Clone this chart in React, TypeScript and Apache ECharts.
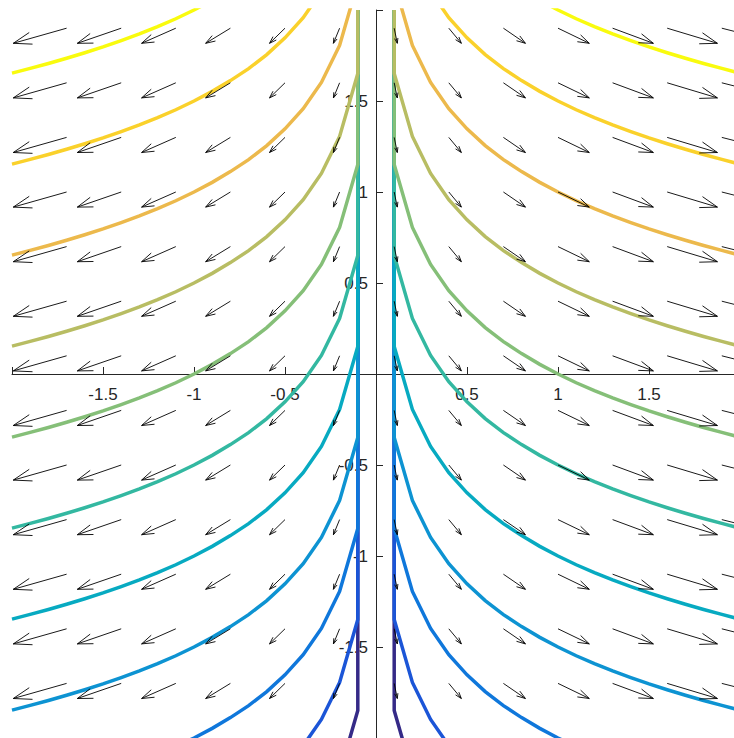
import React, { useEffect, useRef } from "react";
import * as echarts from "echarts";

// contour levels (low -> high, drawn in this order) and their parula colours
const levels = [-3, -2.5, -2, -1.5, -1, -0.5, 0, 0.5, 1, 1.5, 2];
const levelColors = [
  "#352A87", "#1B55D7", "#0F77DB", "#0D93D2", "#07AAC1", "#33B8A1",
  "#85BF78", "#B8BD63", "#ECB94C", "#FAD12B", "#F9FB0E",
];

// right-half contour paths [x, y]; the left half is the mirror image
const contourM30 = [[0.1, 2], [0.1, -1.849], [0.2, -2.195]];
const contourM25 = [[0.1, 2], [0.1, -1.349], [0.2, -1.695], [0.3, -1.898], [0.4, -2.042]];
const contourM20 = [
  [0.1, 2], [0.1, -0.849], [0.2, -1.195], [0.3, -1.398], [0.4, -1.542], [0.5, -1.653],
  [0.6, -1.745], [0.7, -1.822], [0.8, -1.888], [0.9, -1.947], [1.0, -2.0], [1.1, -2.048],
];
const contourM15 = [
  [0.1, 2], [0.1, -0.349], [0.2, -0.695], [0.3, -0.898], [0.4, -1.042], [0.5, -1.153],
  [0.6, -1.245], [0.7, -1.322], [0.8, -1.388], [0.9, -1.447], [1.0, -1.5], [1.1, -1.548],
  [1.2, -1.591], [1.3, -1.631], [1.4, -1.668], [1.5, -1.703], [1.6, -1.735], [1.7, -1.765],
  [1.8, -1.794], [1.9, -1.821], [2.0, -1.847],
];
const contourM10 = [
  [0.1, 2], [0.1, 0.151], [0.2, -0.195], [0.3, -0.398], [0.4, -0.542], [0.5, -0.653],
  [0.6, -0.745], [0.7, -0.822], [0.8, -0.888], [0.9, -0.947], [1.0, -1.0], [1.1, -1.048],
  [1.2, -1.091], [1.3, -1.131], [1.4, -1.168], [1.5, -1.203], [1.6, -1.235], [1.7, -1.265],
  [1.8, -1.294], [1.9, -1.321], [2.0, -1.347],
];
const contourM05 = [
  [0.1, 2], [0.1, 0.651], [0.2, 0.305], [0.3, 0.102], [0.4, -0.042], [0.5, -0.153],
  [0.6, -0.245], [0.7, -0.322], [0.8, -0.388], [0.9, -0.447], [1.0, -0.5], [1.1, -0.548],
  [1.2, -0.591], [1.3, -0.631], [1.4, -0.668], [1.5, -0.703], [1.6, -0.735], [1.7, -0.765],
  [1.8, -0.794], [1.9, -0.821], [2.0, -0.847],
];
const contourP00 = [
  [0.1, 2], [0.1, 1.151], [0.2, 0.805], [0.3, 0.602], [0.4, 0.458], [0.5, 0.347],
  [0.6, 0.255], [0.7, 0.178], [0.8, 0.112], [0.9, 0.053], [1.0, 0.0], [1.1, -0.048],
  [1.2, -0.091], [1.3, -0.131], [1.4, -0.168], [1.5, -0.203], [1.6, -0.235], [1.7, -0.265],
  [1.8, -0.294], [1.9, -0.321], [2.0, -0.347],
];
const contourP05 = [
  [0.1, 2], [0.1, 1.651], [0.2, 1.305], [0.3, 1.102], [0.4, 0.958], [0.5, 0.847],
  [0.6, 0.755], [0.7, 0.678], [0.8, 0.612], [0.9, 0.553], [1.0, 0.5], [1.1, 0.452],
  [1.2, 0.409], [1.3, 0.369], [1.4, 0.332], [1.5, 0.297], [1.6, 0.265], [1.7, 0.235],
  [1.8, 0.206], [1.9, 0.179], [2.0, 0.153],
];
const contourP10 = [
  [0.1, 2.151], [0.2, 1.805], [0.3, 1.602], [0.4, 1.458], [0.5, 1.347],
  [0.6, 1.255], [0.7, 1.178], [0.8, 1.112], [0.9, 1.053], [1.0, 1.0], [1.1, 0.952],
  [1.2, 0.909], [1.3, 0.869], [1.4, 0.832], [1.5, 0.797], [1.6, 0.765], [1.7, 0.735],
  [1.8, 0.706], [1.9, 0.679], [2.0, 0.653],
];
const contourP15 = [
  [0.3, 2.102], [0.4, 1.958], [0.5, 1.847],
  [0.6, 1.755], [0.7, 1.678], [0.8, 1.612], [0.9, 1.553], [1.0, 1.5], [1.1, 1.452],
  [1.2, 1.409], [1.3, 1.369], [1.4, 1.332], [1.5, 1.297], [1.6, 1.265], [1.7, 1.235],
  [1.8, 1.206], [1.9, 1.179], [2.0, 1.153],
];
const contourP20 = [
  [0.9, 2.053], [1.0, 2.0], [1.1, 1.952],
  [1.2, 1.909], [1.3, 1.869], [1.4, 1.832], [1.5, 1.797], [1.6, 1.765], [1.7, 1.735],
  [1.8, 1.706], [1.9, 1.679], [2.0, 1.653],
];
const contourPaths = [
  contourM30, contourM25, contourM20, contourM15, contourM10, contourM05,
  contourP00, contourP05, contourP10, contourP15, contourP20,
];

// quiver grid (visible rows/columns) and arrow components per column; every row is alike
const quiverX = [-2, -1.7, -1.4, -1.1, -0.8, -0.5, -0.2, 0.1, 0.4, 0.7, 1.0, 1.3, 1.6, 1.9];
const quiverY = [-1.7, -1.4, -1.1, -0.8, -0.5, -0.2, 0.1, 0.4, 0.7, 1.0, 1.3, 1.6, 1.9];
const quiverU = [-0.345, -0.293, -0.241, -0.188, -0.136, -0.085, -0.034, 0.017, 0.069, 0.121, 0.172, 0.224, 0.276, 0.327];
const quiverV = [-0.083, -0.083, -0.083, -0.083, -0.083, -0.083, -0.083, -0.083, -0.083, -0.083, -0.083, -0.083, -0.083, -0.083];

const hiddenTicks = [-2, 0, 2];
const FONT = "'Liberation Sans', Arial, Helvetica, sans-serif";
const AXIS_COLOR = "#262626";

// layout (pixels)
const GRID_LEFT = 12;
const GRID_TOP = 10;
const GRID_SIZE = 728;
const CHART_W = 760;
const CHART_H = 760;

export default function App() {
  const ref = useRef<HTMLDivElement>(null);

  useEffect(() => {
    if (!ref.current) return;
    const chart = echarts.init(ref.current, null, { renderer: "svg" });

    const series: any[] = [];
    contourPaths.forEach((path, i) => {
      const right = path.map((p) => [p[0], p[1]]);
      const left = path.map((p) => [-p[0], p[1]]);
      [right, left].forEach((d) => {
        series.push({
          type: "line",
          name: "c" + levels[i],
          data: d,
          symbol: "none",
          showSymbol: false,
          clip: true,
          silent: true,
          z: 2,
          lineStyle: { color: levelColors[i], width: 3.5, cap: "butt", join: "miter" },
        });
      });
    });

    const quiverData: number[][] = [];
    quiverY.forEach((y) => {
      quiverX.forEach((x, i) => {
        quiverData.push([x, y, quiverU[i], quiverV[i]]);
      });
    });

    series.push({
      type: "custom",
      data: quiverData,
      clip: true,
      silent: true,
      z: 3,
      encode: { x: 0, y: 1 },
      renderItem: (_params: any, api: any) => {
        const x = api.value(0);
        const y = api.value(1);
        const u = api.value(2);
        const v = api.value(3);
        const a = 0.33;
        const b = 0.33;
        const p0 = api.coord([x, y]);
        const p1 = api.coord([x + u, y + v]);
        const h1 = api.coord([x + u - a * (u + b * v), y + v - a * (v - b * u)]);
        const h2 = api.coord([x + u - a * (u - b * v), y + v - a * (v + b * u)]);
        const style = { stroke: "#000", lineWidth: 0.9, fill: "none" };
        return {
          type: "group",
          children: [
            { type: "line", shape: { x1: p0[0], y1: p0[1], x2: p1[0], y2: p1[1] }, style },
            { type: "polyline", shape: { points: [h1, p1, h2] }, style },
          ],
        };
      },
    });

    const labelFmt = (val: number) => (hiddenTicks.includes(val) ? "" : String(val));

    chart.setOption({
      animation: false,
      backgroundColor: "#ffffff",
      grid: {
        left: GRID_LEFT,
        top: GRID_TOP,
        width: GRID_SIZE,
        height: GRID_SIZE,
        containLabel: false,
        outerBoundsMode: "none",
      },
      xAxis: {
        type: "value",
        min: -2,
        max: 2,
        interval: 0.5,
        position: "bottom",
        offset: -GRID_SIZE / 2,
        axisLine: { onZero: false, lineStyle: { color: AXIS_COLOR, width: 1 } },
        axisTick: { inside: true, length: 7, lineStyle: { color: AXIS_COLOR, width: 1 } },
        axisLabel: { formatter: labelFmt, fontSize: 17, color: AXIS_COLOR, margin: 12, fontFamily: FONT },
        splitLine: { show: false },
      },
      yAxis: {
        type: "value",
        min: -2,
        max: 2,
        interval: 0.5,
        position: "left",
        offset: -GRID_SIZE / 2,
        axisLine: { onZero: false, lineStyle: { color: AXIS_COLOR, width: 1 } },
        axisTick: { inside: true, length: 7, lineStyle: { color: AXIS_COLOR, width: 1 } },
        axisLabel: { formatter: labelFmt, fontSize: 17, color: AXIS_COLOR, margin: 8, fontFamily: FONT },
        splitLine: { show: false },
      },
      series,
    });

    return () => chart.dispose();
  }, []);

  return (
    <div
      style={{
        position: "fixed",
        left: 0,
        top: 0,
        width: 734,
        height: 738,
        overflow: "hidden",
        background: "#fff",
      }}
    >
      <div ref={ref} style={{ width: CHART_W, height: CHART_H }} />
    </div>
  );
}
